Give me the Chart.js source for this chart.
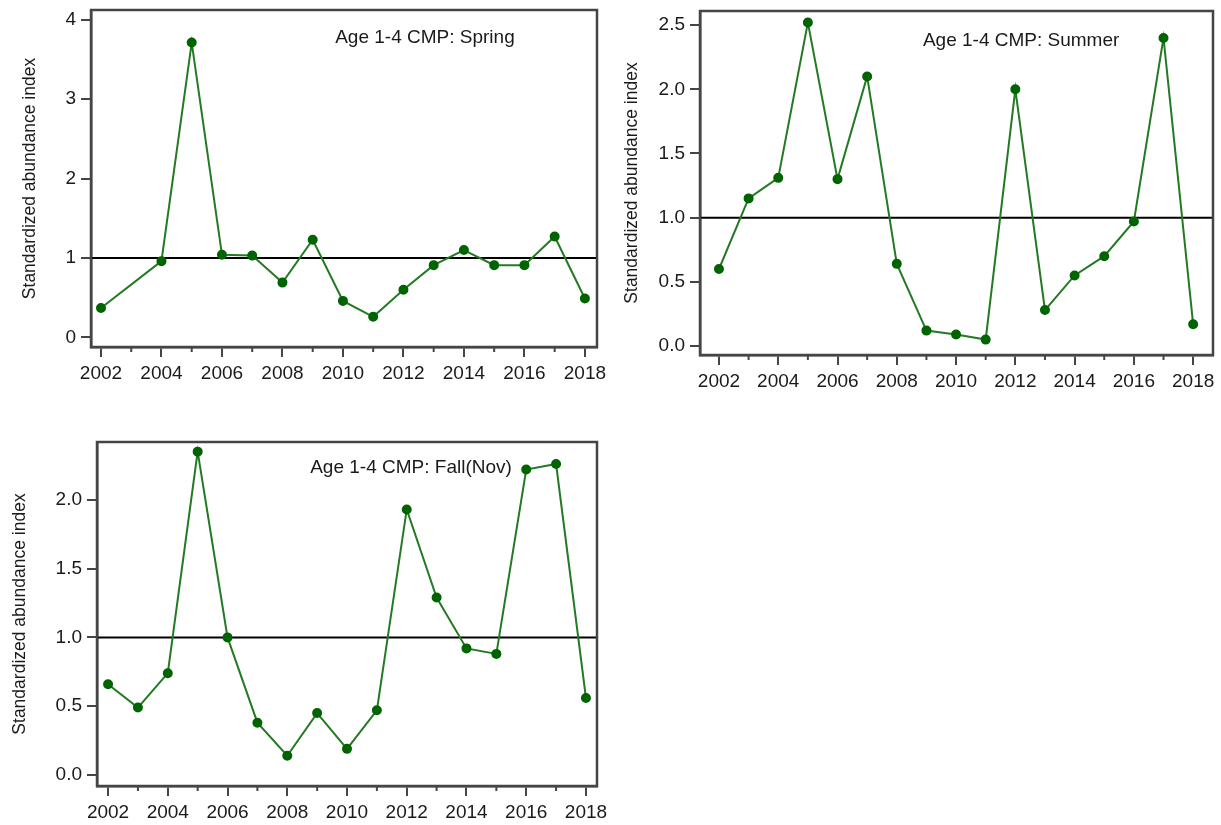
<!DOCTYPE html>
<html lang="en">
<head>
<meta charset="utf-8">
<title>Age 1-4 CMP standardized abundance</title>
<script src="https://cdn.jsdelivr.net/npm/chart.js@4.4.1/dist/chart.umd.min.js"></script>
<style>
    html, body { margin: 0; padding: 0; background: #fff; }
    body { width: 1221px; height: 825px; position: relative; overflow: hidden; }
    .panel { position: absolute; }
</style>
</head>
<body>

<div class="panel" id="p1" style="left:0;top:0;width:610px;height:400px"><canvas id="springChart"></canvas></div>
<div class="panel" id="p2" style="left:610px;top:0;width:611px;height:400px"><canvas id="summerChart"></canvas></div>
<div class="panel" id="p3" style="left:0;top:420px;width:610px;height:405px"><canvas id="fallChart"></canvas></div>

<script>
    // values (2003 has no spring survey)
    const YEARS = [2002, 2003, 2004, 2005, 2006, 2007, 2008, 2009, 2010, 2011, 2012, 2013, 2014, 2015, 2016, 2017, 2018];
    const SPRING = [0.37, null, 0.96, 3.71, 1.04, 1.03, 0.69, 1.23, 0.46, 0.26, 0.60, 0.91, 1.10, 0.91, 0.91, 1.27, 0.49];
    const SUMMER = [0.60, 1.15, 1.31, 2.52, 1.30, 2.10, 0.64, 0.12, 0.09, 0.05, 2.00, 0.28, 0.55, 0.70, 0.97, 2.40, 0.17];
    const FALL = [0.66, 0.49, 0.74, 2.35, 1.00, 0.38, 0.14, 0.45, 0.19, 0.47, 1.93, 1.29, 0.92, 0.88, 2.22, 2.26, 0.56];

    const X_TICKS = [2002, 2004, 2006, 2008, 2010, 2012, 2014, 2016, 2018];
    const SPRING_Y_TICKS = [0, 1, 2, 3, 4];
    const SUMMER_Y_TICKS = [0, 0.5, 1.0, 1.5, 2.0, 2.5];
    const FALL_Y_TICKS = [0, 0.5, 1.0, 1.5, 2.0];
    const REFERENCE_LEVEL = 1;

    const FONT = "'Liberation Sans', Arial, sans-serif";
    const AXIS_COLOR = '#454545';
    Chart.defaults.font.family = FONT;
    Chart.defaults.color = '#1a1a1a';

    // frame round the plot, short ticks on odd years, label inside the plot
    const framePlugin = {
        id: 'frame',
        afterDraw(chart, args, opts) {
            const {ctx, chartArea: a, scales: {x}} = chart;
            ctx.save();
            ctx.strokeStyle = AXIS_COLOR;
            ctx.lineWidth = 2.5;
            ctx.strokeRect(a.left, a.top, a.right - a.left, a.bottom - a.top);

            ctx.lineWidth = 2;
            YEARS.filter(y => !X_TICKS.includes(y)).forEach(y => {
                const px = x.getPixelForValue(y);
                ctx.beginPath();
                ctx.moveTo(px, a.bottom);
                ctx.lineTo(px, a.bottom + 5);
                ctx.stroke();
            });

            ctx.fillStyle = '#1a1a1a';
            ctx.font = '19px ' + FONT;
            ctx.textAlign = 'center';
            ctx.textBaseline = 'middle';
            ctx.fillText(opts.text, a.left + opts.pos * (a.right - a.left), a.top + opts.dy);
            ctx.restore();
        }
    };

    function makeChart(id, values, yTicks, cfg) {
        const points = YEARS.map((yr, i) => ({x: yr, y: values[i]}));
        new Chart(document.getElementById(id), {
            type: 'line',
            data: {
                datasets: [{
                    data: [{x: cfg.xRange[0], y: REFERENCE_LEVEL}, {x: cfg.xRange[1], y: REFERENCE_LEVEL}],
                    borderColor: '#000',
                    borderWidth: 2,
                    pointRadius: 0,
                    order: 2
                }, {
                    data: points,
                    borderColor: '#247a24',
                    borderWidth: 2,
                    backgroundColor: '#006400',
                    pointBackgroundColor: '#006400',
                    pointBorderColor: '#006400',
                    pointRadius: 4,
                    spanGaps: true,
                    tension: 0,
                    order: 1
                }]
            },
            options: {
                responsive: true,
                maintainAspectRatio: false,
                animation: false,
                layout: {padding: cfg.padding},
                plugins: {
                    legend: {display: false},
                    tooltip: {enabled: false},
                    frame: {text: cfg.title, pos: cfg.titlePos, dy: cfg.titleDy}
                },
                scales: {
                    x: {
                        type: 'linear',
                        min: cfg.xRange[0],
                        max: cfg.xRange[1],
                        afterBuildTicks: s => { s.ticks = X_TICKS.map(v => ({value: v})); },
                        afterFit: s => { s.height = cfg.xHeight; s.paddingLeft = 0; s.paddingRight = 0; },
                        ticks: {
                            font: {size: 19},
                            padding: 5,
                            maxRotation: 0,
                            autoSkip: false,
                            callback: v => String(v)
                        },
                        grid: {drawOnChartArea: false, tickLength: 10, color: AXIS_COLOR, lineWidth: 2},
                        border: {color: AXIS_COLOR, width: 2.5}
                    },
                    y: {
                        type: 'linear',
                        min: cfg.yRange[0],
                        max: cfg.yRange[1],
                        afterBuildTicks: s => { s.ticks = yTicks.map(v => ({value: v})); },
                        afterFit: s => { s.width = cfg.yWidth; s.paddingTop = 0; s.paddingBottom = 0; },
                        ticks: {
                            font: {size: 19},
                            padding: 5,
                            callback: v => v.toFixed(cfg.decimals)
                        },
                        grid: {drawOnChartArea: false, tickLength: 10, color: AXIS_COLOR, lineWidth: 2},
                        border: {color: AXIS_COLOR, width: 2.5},
                        title: {
                            display: true,
                            text: 'Standardized abundance index',
                            font: {size: 17.5},
                            padding: {top: cfg.yTitlePad, bottom: 0}
                        }
                    }
                }
            },
            plugins: [framePlugin]
        });
    }

    makeChart('springChart', SPRING, SPRING_Y_TICKS, {
        title: 'Age 1-4 CMP: Spring', titlePos: 0.66, titleDy: 28, decimals: 0,
        padding: {top: 10, right: 13, left: 0, bottom: 0},
        yWidth: 91, xHeight: 53, yRange: [-0.12, 4.12], xRange: [2001.67, 2018.4], yTitlePad: 20
    });

    makeChart('summerChart', SUMMER, SUMMER_Y_TICKS, {
        title: 'Age 1-4 CMP: Summer', titlePos: 0.626, titleDy: 30, decimals: 1,
        padding: {top: 11, right: 8, left: 0, bottom: 0},
        yWidth: 90, xHeight: 45, yRange: [-0.07, 2.61], xRange: [2001.36, 2018.67], yTitlePad: 12
    });

    makeChart('fallChart', FALL, FALL_Y_TICKS, {
        title: 'Age 1-4 CMP: Fall(Nov)', titlePos: 0.628, titleDy: 26, decimals: 1,
        padding: {top: 22, right: 13, left: 0, bottom: 0},
        yWidth: 97, xHeight: 39, yRange: [-0.08, 2.42], xRange: [2001.63, 2018.37], yTitlePad: 10
    });
</script>
</body>
</html>
